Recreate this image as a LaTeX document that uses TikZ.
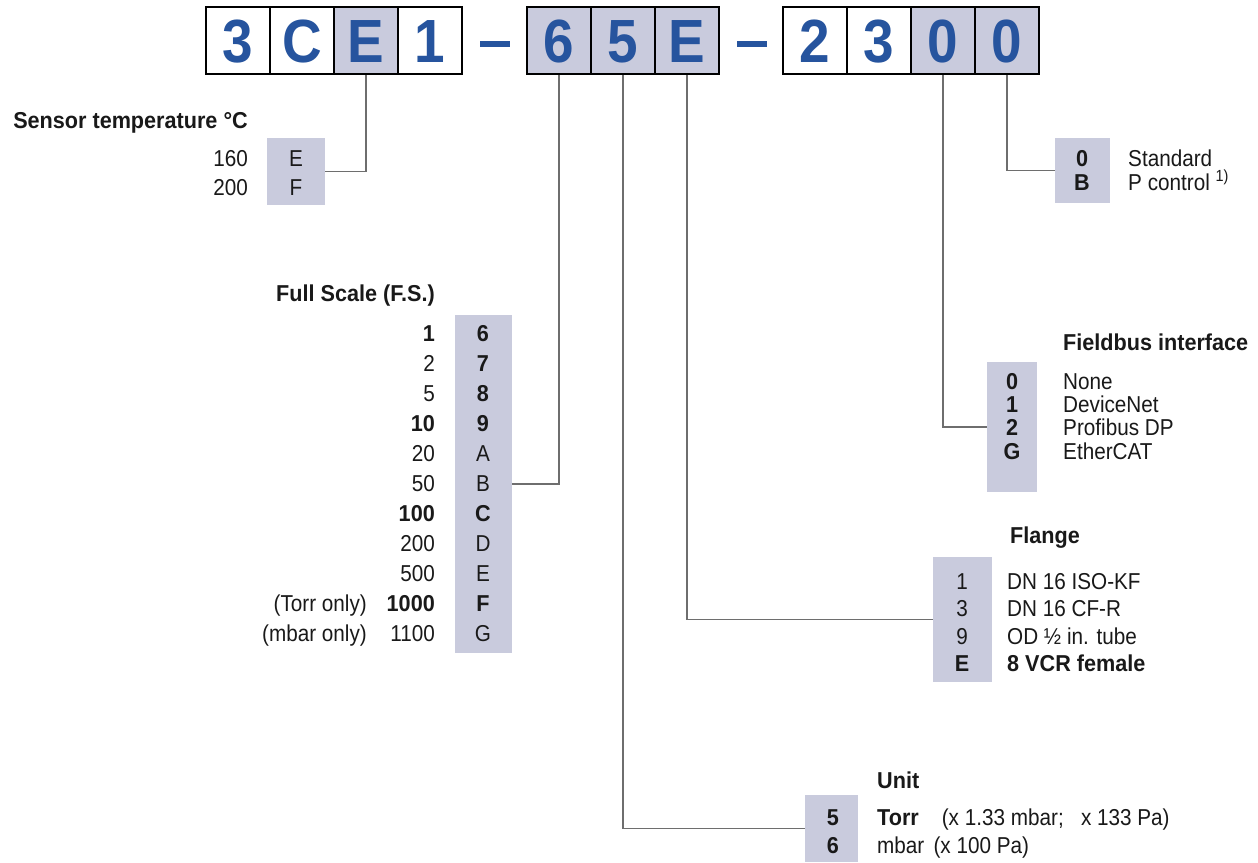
\documentclass[tikz,border=0pt]{standalone}
\usepackage{fontspec}
\setmainfont{Liberation Sans}[FakeStretch=0.9, BoldFeatures={FakeStretch=0.94}]
\newfontfamily\bigfont{Liberation Sans}[FakeStretch=0.9]
\definecolor{codeblue}{RGB}{38,84,158}
\definecolor{shade}{RGB}{201,203,221}
\definecolor{linegray}{RGB}{110,110,110}
\definecolor{ink}{RGB}{25,25,25}
\begin{document}
\begin{tikzpicture}[x=1pt,y=-1pt,
  digit/.style={draw=black, line width=2.6pt, minimum width=64pt, minimum height=67pt,
    inner sep=0pt, outer sep=0pt, font=\bigfont\fontsize{61}{61}\selectfont\bfseries,
    text=codeblue, text height=43.5pt, text depth=0pt},
  digitsh/.style={digit, fill=shade},
  dashbar/.style={fill=codeblue, minimum width=30pt, minimum height=6.5pt, inner sep=0pt},
  legbox/.style={fill=shade, inner sep=0pt, outer sep=0pt},
  txt/.style={font=\fontsize{23}{27}\selectfont, text=ink, inner sep=0pt,
    text height=16.5pt, text depth=0pt},
  ttl/.style={txt, font=\fontsize{23}{27}\selectfont\bfseries},
  btxt/.style={txt, font=\fontsize{23}{27}\selectfont\bfseries},
  conn/.style={draw=linegray, line width=1.1pt},
]
\fill[white] (0,0) rectangle (1258,862);
\useasboundingbox (0,0) rectangle (1258,862);

% legend boxes
\node[legbox, minimum width=58pt, minimum height=67pt] (sbox) at (296,171.5) {};
\node[legbox, minimum width=57pt, minimum height=338pt] (fbox) at (483.5,484) {};
\node[legbox, minimum width=53pt, minimum height=67pt] (ubox) at (831.5,828.5) {};
\node[legbox, minimum width=59pt, minimum height=125pt] (flbox) at (962.5,619.5) {};
\node[legbox, minimum width=50pt, minimum height=130pt] (fbbox) at (1012,427) {};
\node[legbox, minimum width=55pt, minimum height=65pt] (stbox) at (1082.5,170.5) {};

% top code boxes
\node[digit]   (b1) at (238,40.5) {3};
\node[digit]   (b2) at (302,40.5) {C};
\node[digitsh] (b3) at (366,40.5) {E};
\node[digit]   (b4) at (430,40.5) {1};
\node[dashbar] (dash1) at (495,44) {};
\node[digitsh] (c1) at (559,40.5) {6};
\node[digitsh] (c2) at (623,40.5) {5};
\node[digitsh] (c3) at (687,40.5) {E};
\node[dashbar] (dash2) at (752,44) {};
\node[digit]   (d1) at (815,40.5) {2};
\node[digit]   (d2) at (879,40.5) {3};
\node[digitsh] (d3) at (943,40.5) {0};
\node[digitsh] (d4) at (1007,40.5) {0};

% connectors
\draw[conn] (b3.south) |- (sbox.east);
\draw[conn] (c1.south) |- (fbox.east);
\draw[conn] (c2.south) |- (ubox.west);
\draw[conn] (c3.south) |- (flbox.west);
\draw[conn] (d3.south) |- (fbbox.west);
\draw[conn] (d4.south) |- (stbox.west);

% box borders on top of connector ends
\foreach \n in {b1,b2,b3,b4,c1,c2,c3,d1,d2,d3,d4}
  \draw[black, line width=2.6pt] (\n.south west) rectangle (\n.north east);

% Sensor temperature
\node[ttl, anchor=east] (stitle) at (248,120) {Sensor temperature °C};
\node[txt, anchor=east] (sv1) at (248,158) {160};
\node[txt, anchor=east] (sv2) at (248,187) {200};
\node[txt] (sc1) at (296,158) {E};
\node[txt] (sc2) at (296,187) {F};

% Full scale
\node[ttl, anchor=east] (ftitle) at (435,293) {Full Scale (F.S.)};
\foreach \v/\c/\i in {{\textbf{1}}/{\textbf{6}}/0, 2/{\textbf{7}}/1, 5/{\textbf{8}}/2,
    {\textbf{10}}/{\textbf{9}}/3, 20/A/4, 50/B/5, {\textbf{100}}/{\textbf{C}}/6,
    200/D/7, 500/E/8, {\textbf{1000}}/{\textbf{F}}/9, 1100/G/10}{
  \node[txt, anchor=east] (fv\i) at (435,{333+30*\i}) {\v};
  \node[txt] (fc\i) at (483,{333+30*\i}) {\c};
}
\node[txt, anchor=east] (ftorr) at (367,603) {(Torr only)};
\node[txt, anchor=east] (fmbar) at (367,633) {(mbar only)};

% Unit
\node[ttl, anchor=west] (utitle) at (877,780) {Unit};
\node[btxt] (uc1) at (833,817) {5};
\node[btxt] (uc2) at (833,845) {6};
\node[txt, anchor=west] (ut1) at (877,817) {\textbf{Torr}\hspace{1em}(x 1.33 mbar;\hspace{0.75em}x 133 Pa)};
\node[txt, anchor=west] (ut2) at (877,845) {mbar\hspace{0.4em}(x 100 Pa)};

% Flange
\node[ttl, anchor=west] (fltitle) at (1010,535) {Flange};
\node[txt] (flc1) at (962,581) {1};
\node[txt] (flc2) at (962,608.5) {3};
\node[txt] (flc3) at (962,636) {9};
\node[btxt] (flc4) at (962,663.5) {E};
\node[txt, anchor=west] (flt1) at (1007,581) {DN 16 ISO-KF};
\node[txt, anchor=west] (flt2) at (1007,608.5) {DN 16 CF-R};
\node[txt, anchor=west] (flt3) at (1007,636) {OD ½ in. tube};
\node[btxt, anchor=west] (flt4) at (1007,663.5) {8 VCR female};

% Fieldbus interface
\node[ttl, anchor=west] (fbtitle) at (1063,342) {Fieldbus interface};
\node[btxt] (fbc1) at (1012,381) {0};
\node[btxt] (fbc2) at (1012,404.3) {1};
\node[btxt] (fbc3) at (1012,427.6) {2};
\node[btxt] (fbc4) at (1012,451) {G};
\node[txt, anchor=west] (fbt1) at (1063,381) {None};
\node[txt, anchor=west] (fbt2) at (1063,404.3) {DeviceNet};
\node[txt, anchor=west] (fbt3) at (1063,427.6) {Profibus DP};
\node[txt, anchor=west] (fbt4) at (1063,451) {EtherCAT};

% Standard / P control
\node[btxt] (stc1) at (1082,158) {0};
\node[btxt] (stc2) at (1082,182) {B};
\node[txt, anchor=west] (stt1) at (1128,158) {Standard};
\node[txt, anchor=west] (stt2) at (1128,182) {P control \textsuperscript{1)}};
\end{tikzpicture}
\end{document}
